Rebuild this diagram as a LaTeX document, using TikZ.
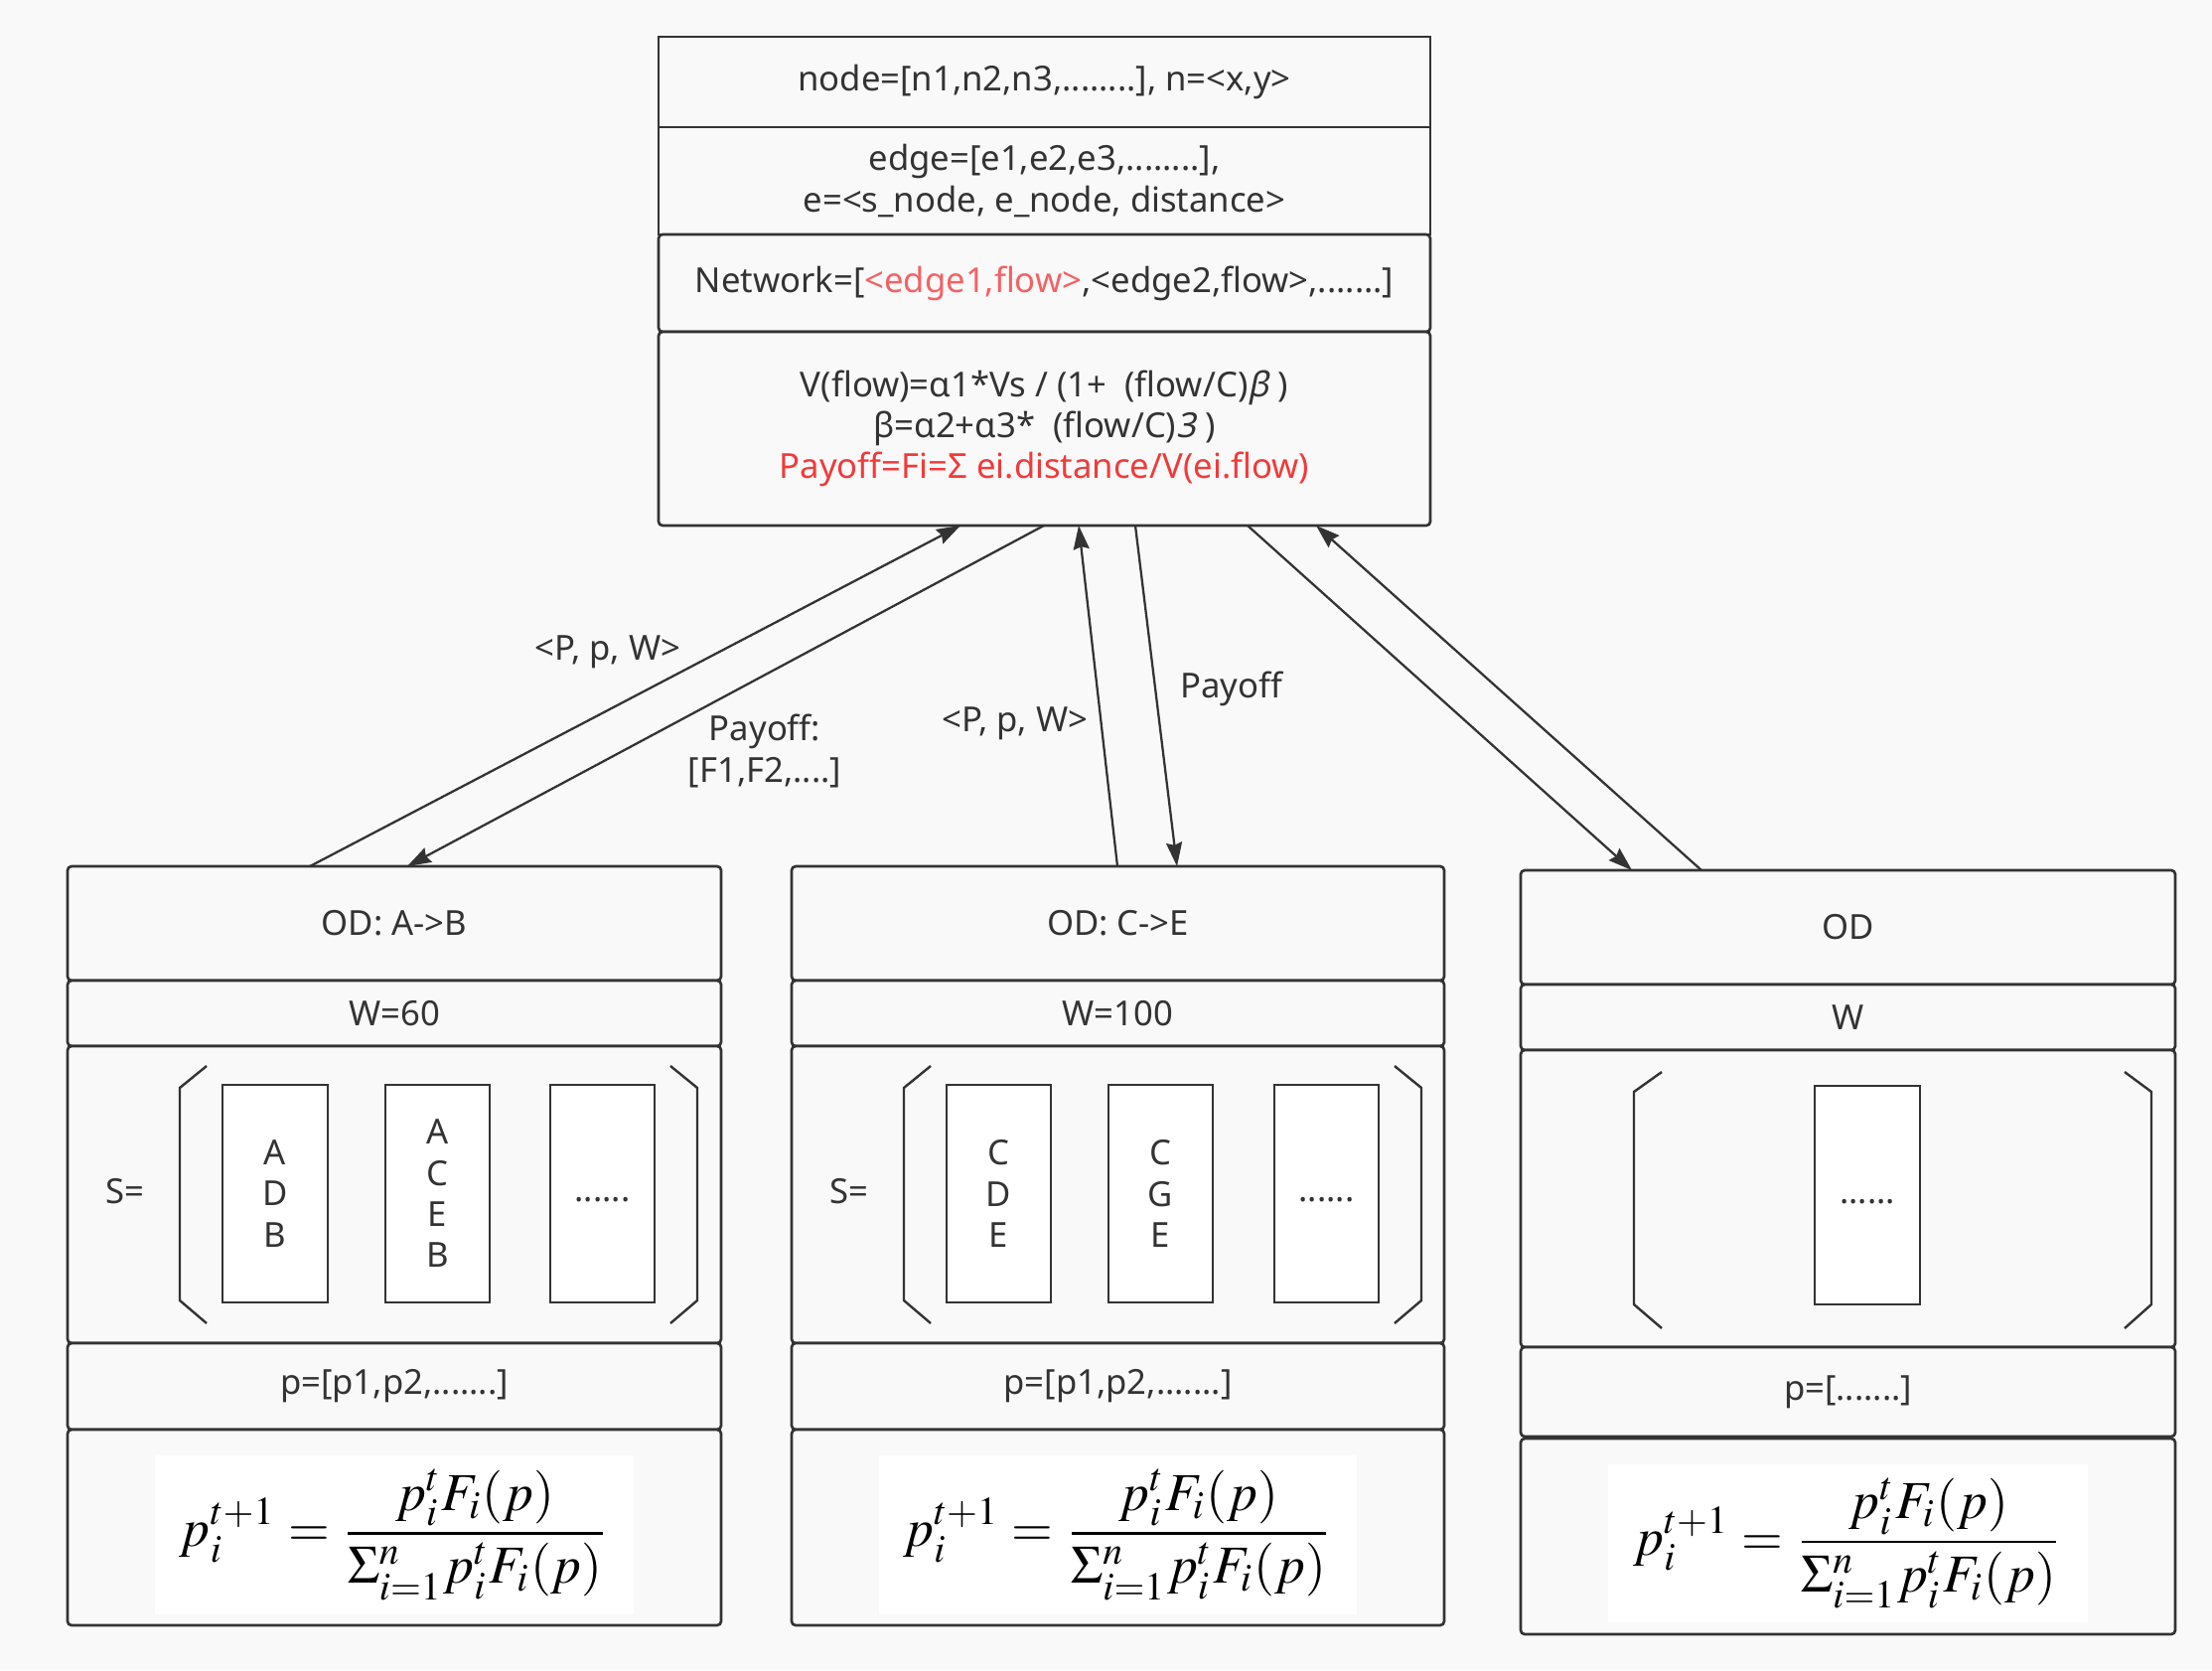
\documentclass[tikz,border=0pt]{standalone}
\usepackage{mathptmx}
\usepackage{graphicx}
\usepackage[no-math]{fontspec}
\setmainfont{Noto Sans}
\newfontfamily\slantfont[FakeSlant=0.2]{Noto Sans}
\usetikzlibrary{arrows.meta,fit}

\definecolor{bg}{HTML}{F9F9F9}
\definecolor{ink}{HTML}{333333}
\definecolor{hlred}{HTML}{F46262}
\definecolor{eqred}{HTML}{F23A3A}

% replicator-dynamics update rule
\newcommand\replicator{\resizebox{324pt}{!}{$\displaystyle
  p_i^{t+1}=\frac{p_i^t F_i(p)}{\Sigma_{i=1}^{n} p_i^t F_i(p)}$}}

\tikzset{
  txt/.style={font=\fontsize{26}{31}\selectfont, text=ink, align=center, inner sep=0pt},
  panel/.style={draw=ink, line width=2pt, fill=bg, rounded corners=3pt, inner sep=0pt},
  sharp/.style={panel, rounded corners=0pt},
  pathbox/.style={draw=ink, line width=1.8pt, fill=white, inner sep=0pt},
  eqbox/.style={fill=white, inner sep=0pt},
  bracket/.style={draw=ink, line width=1.8pt},
  flow/.style={draw=ink, line width=1.7pt, -{Stealth[length=18pt,width=12pt,inset=2pt]}},
}

\begin{document}
\begin{tikzpicture}[x=0.75pt,y=-0.75pt]
\useasboundingbox[fill=bg] (0,0) rectangle (2227,1681);

% ---- network description (top) ----
\node[sharp, fit={(663,37) (1440,128)}] (tnode) {};
\node[sharp, fit={(663,128) (1440,236)}] (tedge) {};
\node[panel, fit={(663,236) (1440,334)}] (tnet) {};
\node[panel, fit={(663,334) (1440,529)}] (tpay) {};
\node[txt] (tnodet) at (tnode.center) {node=[n1,n2,n3,........], n=<x,y>};
\node[txt] (tedget) at (tedge.center) {edge=[e1,e2,e3,........],\\e=<s\_node, e\_node, distance>};
\node[txt] (tnett) at (tnet.center) {Network=[\textcolor{hlred}{<edge1,flow>},<edge2,flow>,.......]};
\node[txt] (tpayt) at (tpay.center) {V(flow)=α1*Vs / (1+~~(flow/C){\slantfont β}~)\\
  β=α2+α3*~~(flow/C){\slantfont 3}~)\\
  \textcolor{eqred}{Payoff=Fi=Σ ei.distance/V(ei.flow)}};

% ---- OD pair A->B ----
\node[panel, fit={(68,872) (726,987)}] (odA) {};
\node[panel, fit={(68,987) (726,1053)}] (wA) {};
\node[panel, fit={(68,1053) (726,1352)}] (sA) {};
\node[panel, fit={(68,1352) (726,1439)}] (pA) {};
\node[panel, fit={(68,1439) (726,1636)}] (fA) {};
\node[txt] (odAt) at (odA.center) {OD: A->B};
\node[txt] (wAt) at (wA.center) {W=60};
\node[txt] (pAt) at (pA.center) {p=[p1,p2,.......]};
\node[txt] (sAlbl) at (126,1199) {S=};
\draw[bracket] (208,1073) -- (181,1095) -- (181,1309) -- (208,1332);
\draw[bracket] (675,1073) -- (702,1095) -- (702,1309) -- (675,1332);
\node[pathbox, fit={(224,1092) (330,1311)}] (pA1) {};
\node[pathbox, fit={(388,1092) (493,1311)}] (pA2) {};
\node[pathbox, fit={(554,1092) (659,1311)}] (pA3) {};
\node[txt] (pA1t) at (pA1.center) {A\\D\\B};
\node[txt] (pA2t) at (pA2.center) {A\\C\\E\\B};
\node[txt] (pA3t) at (pA3.center) {\strut......};
\node[eqbox, fit={(156,1465) (638,1625)}] (eqA) {};
\node (eqAt) at (eqA.center) {\replicator};

% ---- OD pair C->E ----
\node[panel, fit={(797,872) (1454,987)}] (odB) {};
\node[panel, fit={(797,987) (1454,1053)}] (wB) {};
\node[panel, fit={(797,1053) (1454,1352)}] (sB) {};
\node[panel, fit={(797,1352) (1454,1439)}] (pB) {};
\node[panel, fit={(797,1439) (1454,1636)}] (fB) {};
\node[txt] (odBt) at (odB.center) {OD: C->E};
\node[txt] (wBt) at (wB.center) {W=100};
\node[txt] (pBt) at (pB.center) {p=[p1,p2,.......]};
\node[txt] (sBlbl) at (855,1199) {S=};
\draw[bracket] (937,1073) -- (910,1095) -- (910,1309) -- (937,1332);
\draw[bracket] (1404,1073) -- (1431,1095) -- (1431,1309) -- (1404,1332);
\node[pathbox, fit={(953,1092) (1058,1311)}] (pB1) {};
\node[pathbox, fit={(1116,1092) (1221,1311)}] (pB2) {};
\node[pathbox, fit={(1283,1092) (1388,1311)}] (pB3) {};
\node[txt] (pB1t) at (pB1.center) {C\\D\\E};
\node[txt] (pB2t) at (pB2.center) {C\\G\\E};
\node[txt] (pB3t) at (pB3.center) {\strut......};
\node[eqbox, fit={(885,1465) (1366,1625)}] (eqB) {};
\node (eqBt) at (eqB.center) {\replicator};

% ---- generic OD pair ----
\node[panel, fit={(1531,876) (2190,991)}] (odC) {};
\node[panel, fit={(1531,991) (2190,1057)}] (wC) {};
\node[panel, fit={(1531,1057) (2190,1356)}] (sC) {};
\node[panel, fit={(1531,1356) (2190,1446)}] (pC) {};
\node[panel, fit={(1531,1448) (2190,1645)}] (fC) {};
\node[txt] (odCt) at (odC.center) {OD};
\node[txt] (wCt) at (wC.center) {W};
\node[txt] (pCt) at (pC.center) {p=[.......]};
\draw[bracket] (1673,1079) -- (1645,1099) -- (1645,1313) -- (1673,1337);
\draw[bracket] (2139,1079) -- (2166,1099) -- (2166,1313) -- (2139,1337);
\node[pathbox, fit={(1827,1093) (1933,1313)}] (pC1) {};
\node[txt] (pC1t) at (pC1.center) {\strut......};
\node[eqbox, fit={(1619,1474) (2102,1633)}] (eqC) {};
\node (eqCt) at (eqC.center) {\replicator};

% ---- connector end points on the box borders ----
\coordinate (a1s) at (312,872);   \coordinate (a1e) at (967,529);
\coordinate (a2s) at (1051,529);  \coordinate (a2e) at (410,872);
\coordinate (a3s) at (1125,872);  \coordinate (a3e) at (1086,529);
\coordinate (a4s) at (1143,529);  \coordinate (a4e) at (1185,872);
\coordinate (a5s) at (1256,529);  \coordinate (a5e) at (1643,876);
\coordinate (a6s) at (1713,876);  \coordinate (a6e) at (1325,529);

\draw[flow] (a1s) -- (a1e);
\draw[flow] (a2s) -- (a2e);
\draw[flow] (a3s) -- (a3e);
\draw[flow] (a4s) -- (a4e);
\draw[flow] (a5s) -- (a5e);
\draw[flow] (a6s) -- (a6e);

\node[txt] (l1) at (612,656) {<P, p, W>};
\node[txt] (l2) at (770,756) {Payoff:\\{}[F1,F2,....]};
\node[txt] (l3) at (1022,728) {<P, p, W>};
\node[txt] (l4) at (1240,693) {Payoff};
\end{tikzpicture}
\end{document}
